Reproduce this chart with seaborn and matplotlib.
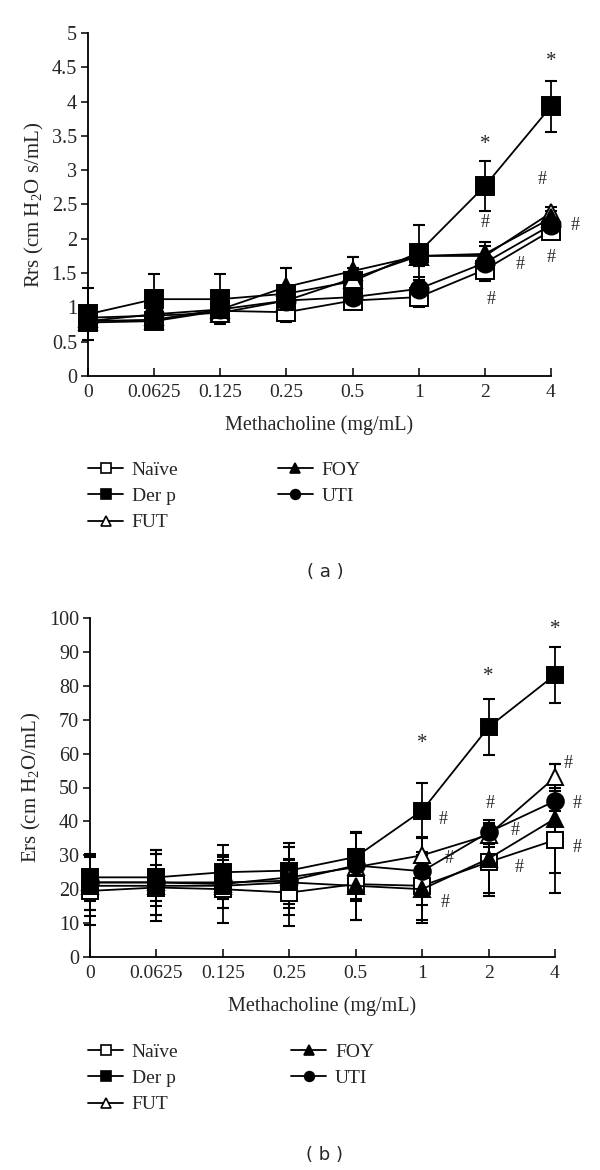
import numpy as np
import pandas as pd
import matplotlib
matplotlib.use("Agg")
import matplotlib.pyplot as plt
import seaborn as sns

# ── Data ─────────────────────────────────────────────────────────────────────
doses = ["0", "0.0625", "0.125", "0.25", "0.5", "1", "2", "4"]
groups = ["Naïve", "Der p", "FUT", "FOY", "UTI"]

rrs_naive = [0.78, 0.80, 0.95, 0.93, 1.10, 1.15, 1.55, 2.12]
rrs_derp  = [0.90, 1.12, 1.12, 1.20, 1.38, 1.80, 2.77, 3.93]
rrs_fut   = [0.85, 0.88, 0.92, 1.10, 1.42, 1.75, 1.75, 2.38]
rrs_foy   = [0.80, 0.82, 0.97, 1.30, 1.53, 1.75, 1.78, 2.30]
rrs_uti   = [0.80, 0.90, 0.97, 1.10, 1.15, 1.27, 1.65, 2.20]

rrs_err_naive = [0.10, 0.10, 0.15, 0.15, 0.12, 0.15, 0.17, 0.10]
rrs_err_derp  = [0.38, 0.36, 0.36, 0.38, 0.35, 0.40, 0.36, 0.37]
rrs_err_fut   = [0.10, 0.10, 0.10, 0.20, 0.15, 0.15, 0.15, 0.08]
rrs_err_foy   = [0.12, 0.12, 0.12, 0.28, 0.20, 0.15, 0.18, 0.10]
rrs_err_uti   = [0.10, 0.10, 0.10, 0.15, 0.12, 0.17, 0.12, 0.10]

ers_naive = [19.5, 20.5, 20.0, 19.0, 21.5, 21.0, 28.0, 34.5]
ers_derp  = [23.5, 23.5, 25.0, 25.5, 29.5, 43.2, 67.8, 83.2]
ers_fut   = [22.0, 22.0, 21.5, 23.5, 26.5, 30.0, 36.0, 53.0]
ers_foy   = [21.0, 21.0, 21.0, 22.0, 21.0, 20.0, 29.0, 40.8]
ers_uti   = [22.0, 22.0, 22.0, 22.5, 27.0, 25.3, 36.8, 46.0]

ers_err_naive = [10.0, 10.0, 10.0, 10.0, 10.5, 10.0, 10.0, 15.5]
ers_err_derp  = [7.0, 7.0, 8.0, 8.0, 7.5, 8.0, 8.2, 8.2]
ers_err_fut   = [8.0, 9.5, 7.0, 9.0, 10.0, 5.0, 3.5, 4.0]
ers_err_foy   = [9.0, 6.0, 4.0, 6.5, 10.0, 10.0, 10.0, 16.0]
ers_err_uti   = [8.0, 9.5, 7.5, 10.0, 10.0, 10.0, 3.5, 3.0]

# significance marks: (dose index, value, symbol)
rrs_marks = [(6.0, 3.38, "*"), (7.0, 4.59, "*"), (6.0, 2.24, "#"), (6.87, 2.87, "#"),
             (7.37, 2.20, "#"), (7.0, 1.73, "#"), (6.53, 1.63, "#"), (6.1, 1.11, "#")]
ers_marks = [(5.0, 62.9, "*"), (6.0, 82.8, "*"), (7.0, 96.6, "*"), (5.31, 40.5, "#"),
             (5.41, 29.0, "#"), (5.35, 16.0, "#"), (6.02, 45.4, "#"), (6.4, 37.3, "#"),
             (6.46, 26.5, "#"), (7.2, 57.0, "#"), (7.33, 45.4, "#"), (7.33, 32.2, "#")]

# ── Style ────────────────────────────────────────────────────────────────────
sns.set_theme(style="ticks")
plt.rcParams.update({
    "font.family": ["Liberation Serif", "DejaVu Serif"],
    "mathtext.fontset": "custom",
    "mathtext.rm": "Liberation Serif",
    "mathtext.it": "Liberation Serif:italic",
    "axes.linewidth": 1.3,
    "axes.edgecolor": "black",
})

markers = {"Naïve": ("s", "white"), "Der p": ("s", "black"), "FUT": ("^", "white"),
           "FOY": ("^", "black"), "UTI": ("o", "black")}


def draw_panel(ax, means, errs, marks, ylim, yticks, ylabel, msize):
    x = np.arange(len(doses))
    for g, m, e in zip(groups, means, errs):
        ax.errorbar(x, m, yerr=e, fmt="none", ecolor="black", elinewidth=1.3,
                    capsize=4.5, capthick=1.5, zorder=2, clip_on=False)
    handles = []
    for g, m in zip(groups, means):
        mk, fc = markers[g]
        df = pd.DataFrame({"dose": x, "val": m})
        sns.lineplot(data=df, x="dose", y="val", ax=ax, color="black", lw=1.3,
                     marker=mk, markersize=msize, markerfacecolor=fc,
                     markeredgecolor="black", markeredgewidth=1.4, zorder=3,
                     clip_on=False)
        h, = ax.plot([], [], color="black", lw=1.3, marker=mk, markersize=7,
                     markerfacecolor=fc, markeredgecolor="black", markeredgewidth=1.2)
        handles.append(h)
    for xi, yi, s in marks:
        ax.text(xi, yi, s, ha="center", va="center", fontsize=13 if s == "#" else 15)
    ax.set_xlim(0, 7)
    ax.set_ylim(*ylim)
    ax.set_yticks(yticks)
    ax.set_yticklabels([f"{t:g}" for t in yticks])
    ax.set_xticks(x)
    ax.set_xticklabels(doses)
    ax.tick_params(axis="x", direction="in", length=6, width=1.3, pad=6, labelsize=14)
    ax.tick_params(axis="y", direction="out", length=5, width=1.3, pad=3, labelsize=14.5)
    ax.set_xlabel("Methacholine (mg/mL)", fontsize=14.5, labelpad=10)
    ax.set_ylabel(ylabel, fontsize=15, labelpad=4)
    sns.despine(ax=ax)
    return handles


fig = plt.figure(figsize=(6, 11.7), dpi=100)
ax_a = fig.add_axes([88 / 600, 1 - 376 / 1170, (551 - 88) / 600, (376 - 33) / 1170])
ax_b = fig.add_axes([90 / 600, 1 - 957 / 1170, (555 - 90) / 600, (957 - 618) / 1170])

h_a = draw_panel(ax_a, [rrs_naive, rrs_derp, rrs_fut, rrs_foy, rrs_uti],
                 [rrs_err_naive, rrs_err_derp, rrs_err_fut, rrs_err_foy, rrs_err_uti],
                 rrs_marks, (0, 5), np.arange(0, 5.01, 0.5),
                 r"Rrs (cm H$_2$O s/mL)", 13)
h_b = draw_panel(ax_b, [ers_naive, ers_derp, ers_fut, ers_foy, ers_uti],
                 [ers_err_naive, ers_err_derp, ers_err_fut, ers_err_foy, ers_err_uti],
                 ers_marks, (0, 100), np.arange(0, 101, 10),
                 r"Ers (cm H$_2$O/mL)", 12)

for h, top, cs in [(h_a, 461, 5.1), (h_b, 1043, 5.8)]:
    fig.legend(h, groups, ncol=2, loc="upper left",
               bbox_to_anchor=(88 / 600, 1 - top / 1170), frameon=False,
               fontsize=14, handlelength=1.8, handletextpad=0.45,
               columnspacing=cs, labelspacing=0.45, borderpad=0, borderaxespad=0)

fig.text(325 / 600, 1 - 572 / 1170, "( a )", ha="center", va="center",
         fontsize=13, family="DejaVu Sans")
fig.text(325 / 600, 1 - 1155 / 1170, "( b )", ha="center", va="center",
         fontsize=13, family="DejaVu Sans")

fig.savefig("out.png", dpi=100)
